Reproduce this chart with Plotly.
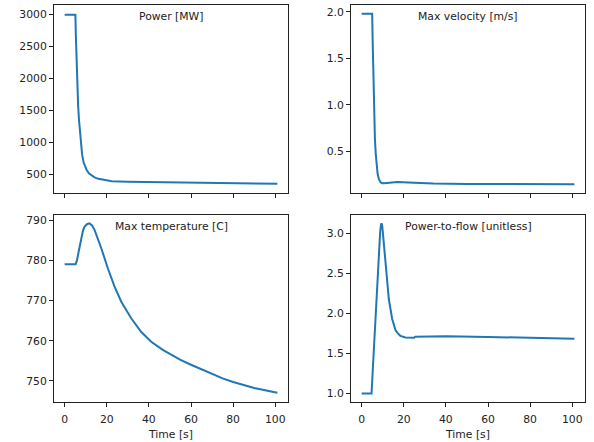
import plotly.graph_objects as go

# Power [MW]
t_power = [0, 5.1, 5.3, 5.5, 5.7, 6.0, 6.4, 6.8, 7.2, 7.7, 8.3, 9.0, 9.7, 10.4, 11.5, 12.8, 14.2, 16, 19, 22.4, 30, 40, 50, 60, 70, 80, 90, 101]
power = [3000, 3000, 2700, 2420, 2180, 1880, 1585, 1360, 1170, 980, 810, 690, 620, 575, 520, 484, 455, 432, 410, 395, 388, 383, 378, 372, 367, 362, 358, 354]

# Max velocity [m/s]
t_vel = [0, 5.0, 5.2, 5.4, 5.6, 5.8, 6.0, 6.3, 6.7, 7.1, 7.6, 8.2, 9.0, 9.8, 10.5, 12, 13.5, 16.8, 25, 34, 50, 70, 101]
velocity = [1.98, 1.98, 1.72, 1.45, 1.20, 1.00, 0.83, 0.635, 0.47, 0.344, 0.255, 0.198, 0.165, 0.156, 0.154, 0.158, 0.164, 0.169, 0.160, 0.152, 0.148, 0.146, 0.144]

# Max temperature [C]
t_temp = [0, 5.2, 5.8, 6.3, 7.1, 7.9, 8.7, 9.5, 10.6, 11.8, 13.0, 14.2, 15.8, 17.4, 20.5, 23.7, 26.9, 31.6, 36.3, 41.1, 46.6, 50, 55, 60, 65, 70, 75, 80, 90, 101]
temperature = [779.1, 779.1, 780.0, 781.4, 783.8, 786.0, 787.5, 788.5, 789.1, 789.3, 788.8, 787.7, 785.6, 783.1, 778.1, 773.5, 769.75, 765.6, 762.25, 759.75, 757.7, 756.6, 755.2, 754.0, 752.8, 751.6, 750.6, 749.7, 748.2, 747.0]

# Power-to-flow [unitless]
t_ptf = [0, 4.7, 5.4, 6.6, 7.9, 8.8, 9.2, 9.45, 9.8, 10.2, 11.3, 12.9, 14.5, 16.1, 17.2, 18.4, 20.8, 23.9, 24.9, 25.5, 30, 40, 60, 80, 101]
ptf = [1.0, 1.0, 1.35, 1.97, 2.60, 3.02, 3.11, 3.126, 3.09, 2.98, 2.60, 2.18, 1.93, 1.79, 1.75, 1.72, 1.70, 1.69, 1.695, 1.71, 1.712, 1.714, 1.706, 1.697, 1.685]

x_ticks = [0, 20, 40, 60, 80, 100]
titles = ["Power [MW]", "Max velocity [m/s]", "Max temperature [C]", "Power-to-flow [unitless]"]
x_label = "Time [s]"

W, H = 594, 442
col_dom = [[54 / W, 288 / W], [351 / W, 585 / W]]
row_dom = [[(H - 193) / H, (H - 5) / H], [(H - 402) / H, (H - 215) / H]]

color = "#1f77b4"
txt = "#222222"
font = dict(family="DejaVu Sans", size=10.8, color=txt)

fig = go.Figure()
series = [(t_power, power), (t_vel, velocity), (t_temp, temperature), (t_ptf, ptf)]
yranges = [[210, 3152], [0.05, 2.075], [744.7, 791.4], [0.893, 3.23]]
yticks = [[500, 1000, 1500, 2000, 2500, 3000], [0.5, 1.0, 1.5, 2.0], [750, 760, 770, 780, 790], [1.0, 1.5, 2.0, 2.5, 3.0]]
ytext = [["500", "1000", "1500", "2000", "2500", "3000"], ["0.5", "1.0", "1.5", "2.0"],
         ["750", "760", "770", "780", "790"], ["1.0", "1.5", "2.0", "2.5", "3.0"]]

layout = {}
for i, (tx, ty) in enumerate(series):
    r, c = divmod(i, 2)
    n = "" if i == 0 else str(i + 1)
    fig.add_trace(go.Scatter(x=tx, y=ty, mode="lines", line=dict(color=color, width=2),
                             xaxis="x" + n, yaxis="y" + n, showlegend=False, hoverinfo="skip"))
    axcommon = dict(showline=True, mirror=True, linecolor="#222", linewidth=1, ticks="outside", ticklen=4,
                    tickcolor="#222", tickwidth=1, showgrid=False, zeroline=False, tickfont=font,
                    automargin=False)
    layout["xaxis" + n] = dict(domain=col_dom[c], anchor="y" + n, range=[-5.05, 106.05],
                               tickvals=x_ticks, showticklabels=(r == 1), ticklabelstandoff=3,
                               title=dict(text=x_label if r == 1 else "", font=font, standoff=5), **axcommon)
    layout["yaxis" + n] = dict(domain=row_dom[r], anchor="x" + n, range=yranges[i],
                               tickvals=yticks[i], ticktext=ytext[i], **axcommon)
    fig.add_annotation(text=titles[i], xref=("x" + n) + " domain", yref=("y" + n) + " domain",
                       x=0.5, y=1, yshift=-3, xanchor="center", yanchor="top", showarrow=False, font=font)

fig.update_layout(template="none", width=W, height=H, margin=dict(l=0, r=0, t=0, b=0, autoexpand=False),
                  plot_bgcolor="white", paper_bgcolor="white", font=font, **layout)
fig.write_html("out.html", config={"displayModeBar": False},
               post_script="document.body.style.margin='0';document.body.style.overflow='hidden';")
